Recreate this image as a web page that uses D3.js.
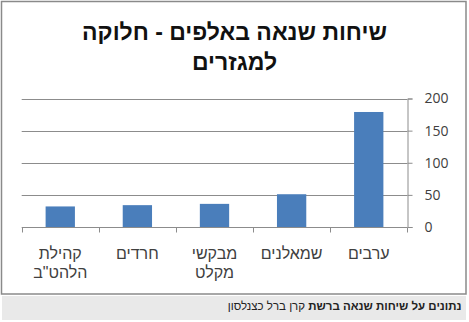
<!DOCTYPE html>
<html lang="he">
<head>
<meta charset="utf-8">
<script src="https://cdn.jsdelivr.net/npm/d3@7"></script>
<style>
  html, body { margin: 0; padding: 0; background: #ffffff; }
  svg { display: block; }
</style>
</head>
<body>
<svg id="chart" width="469" height="322"></svg>
<script>
// Hate-speech conversations (thousands), by sector — listed right to left
const categories = ["ערבים", "שמאלנים", "מבקשי מקלט", "חרדים", "קהילת הלהט\"ב"];
const categoryLines = [["ערבים"], ["שמאלנים"], ["מבקשי", "מקלט"], ["חרדים"], ["קהילת", "הלהט\"ב"]];
const values = [179, 51, 36, 34, 32];
const yTicks = [0, 50, 100, 150, 200];
const titleLines = ["שיחות שנאה באלפים - חלוקה", "למגזרים"];
const captionBold = "נתונים על שיחות שנאה ברשת";
const captionRest = " קרן ברל כצנלסון";

const svg = d3.select("#chart");
const W = 469, H = 322;
const plot = { left: 21.7, right: 407.3, top: 98.5, bottom: 227 };
const axisColor = "#8c8c8c";
const textColor = "#404040";

// frame of the chart area
svg.append("rect")
  .attr("x", 1.5).attr("y", 1.5)
  .attr("width", 464.5).attr("height", 292.5)
  .attr("fill", "#ffffff")
  .attr("stroke", "#8a8a8a").attr("stroke-width", 1.5);

// caption band
svg.append("rect")
  .attr("x", 2).attr("y", 296)
  .attr("width", 464).attr("height", 24)
  .attr("fill", "#e9e9e9");

// the chart runs right to left: first category sits at the right edge
const x = d3.scaleBand()
  .domain(categories.slice().reverse())
  .range([plot.left, plot.right])
  .paddingInner(0.62)
  .paddingOuter(0.31);

const y = d3.scaleLinear()
  .domain([0, 200])
  .range([plot.bottom, plot.top]);

// horizontal gridlines
svg.append("g")
  .selectAll("line")
  .data(yTicks.filter(d => d > 0))
  .join("line")
  .attr("x1", plot.left).attr("x2", plot.right)
  .attr("y1", d => Math.round(y(d)) + 0.5).attr("y2", d => Math.round(y(d)) + 0.5)
  .attr("stroke", axisColor).attr("stroke-width", 1);

// bars
svg.append("g")
  .selectAll("rect")
  .data(categories)
  .join("rect")
  .attr("x", d => x(d))
  .attr("width", x.bandwidth())
  .attr("y", (d, i) => y(values[i]))
  .attr("height", (d, i) => y(0) - y(values[i]))
  .attr("fill", "#4a7ebb");

// value axis on the right
const yAxis = svg.append("g")
  .attr("transform", `translate(${Math.round(plot.right) + 0.5},0)`)
  .call(d3.axisRight(y).tickValues(yTicks).tickSize(5).tickPadding(12));
yAxis.select(".domain").attr("stroke", axisColor);
yAxis.selectAll(".tick line").attr("stroke", axisColor);
yAxis.selectAll(".tick text")
  .attr("fill", textColor)
  .attr("font-family", "'Open Sans', 'DejaVu Sans', sans-serif")
  .attr("font-size", 14);

// category axis line with ticks at category boundaries
const baseY = Math.round(y(0)) + 0.5;
svg.append("line")
  .attr("x1", plot.left).attr("x2", plot.right)
  .attr("y1", baseY).attr("y2", baseY)
  .attr("stroke", axisColor);
const bounds = x.domain().map(d => x(d) + x.bandwidth() / 2 - x.step() / 2)
  .concat([plot.right]);
svg.append("g")
  .selectAll("line")
  .data(bounds)
  .join("line")
  .attr("x1", d => Math.round(d) + 0.5).attr("x2", d => Math.round(d) + 0.5)
  .attr("y1", baseY).attr("y2", baseY + 5)
  .attr("stroke", axisColor);

// category labels (wrapped)
const labels = svg.append("g")
  .attr("font-family", "'Liberation Sans', Arial, sans-serif")
  .attr("font-size", 16)
  .attr("fill", textColor)
  .attr("text-anchor", "middle");
categories.forEach((c, i) => {
  categoryLines[i].forEach((line, j) => {
    labels.append("text")
      .attr("x", x(c) + x.bandwidth() / 2)
      .attr("y", 258.5 + j * 19)
      .attr("direction", "rtl")
      .text(line);
  });
});

// title
svg.append("g")
  .attr("font-family", "'Liberation Sans', Arial, sans-serif")
  .attr("font-size", 23)
  .attr("font-weight", "bold")
  .attr("fill", "#111111")
  .attr("text-anchor", "middle")
  .selectAll("text")
  .data(titleLines)
  .join("text")
  .attr("x", 234.5)
  .attr("y", (d, i) => 39.5 + i * 30)
  .attr("direction", "rtl")
  .text(d => d);

// caption
const cap = svg.append("text")
  .attr("x", 461.5).attr("y", 310)
  .attr("direction", "rtl")
  .attr("text-anchor", "start")
  .attr("font-family", "'Liberation Sans', Arial, sans-serif")
  .attr("font-size", 11.5)
  .attr("fill", "#222222");
cap.append("tspan").attr("font-weight", "bold").text(captionBold);
cap.append("tspan").text(captionRest);
</script>
</body>
</html>
